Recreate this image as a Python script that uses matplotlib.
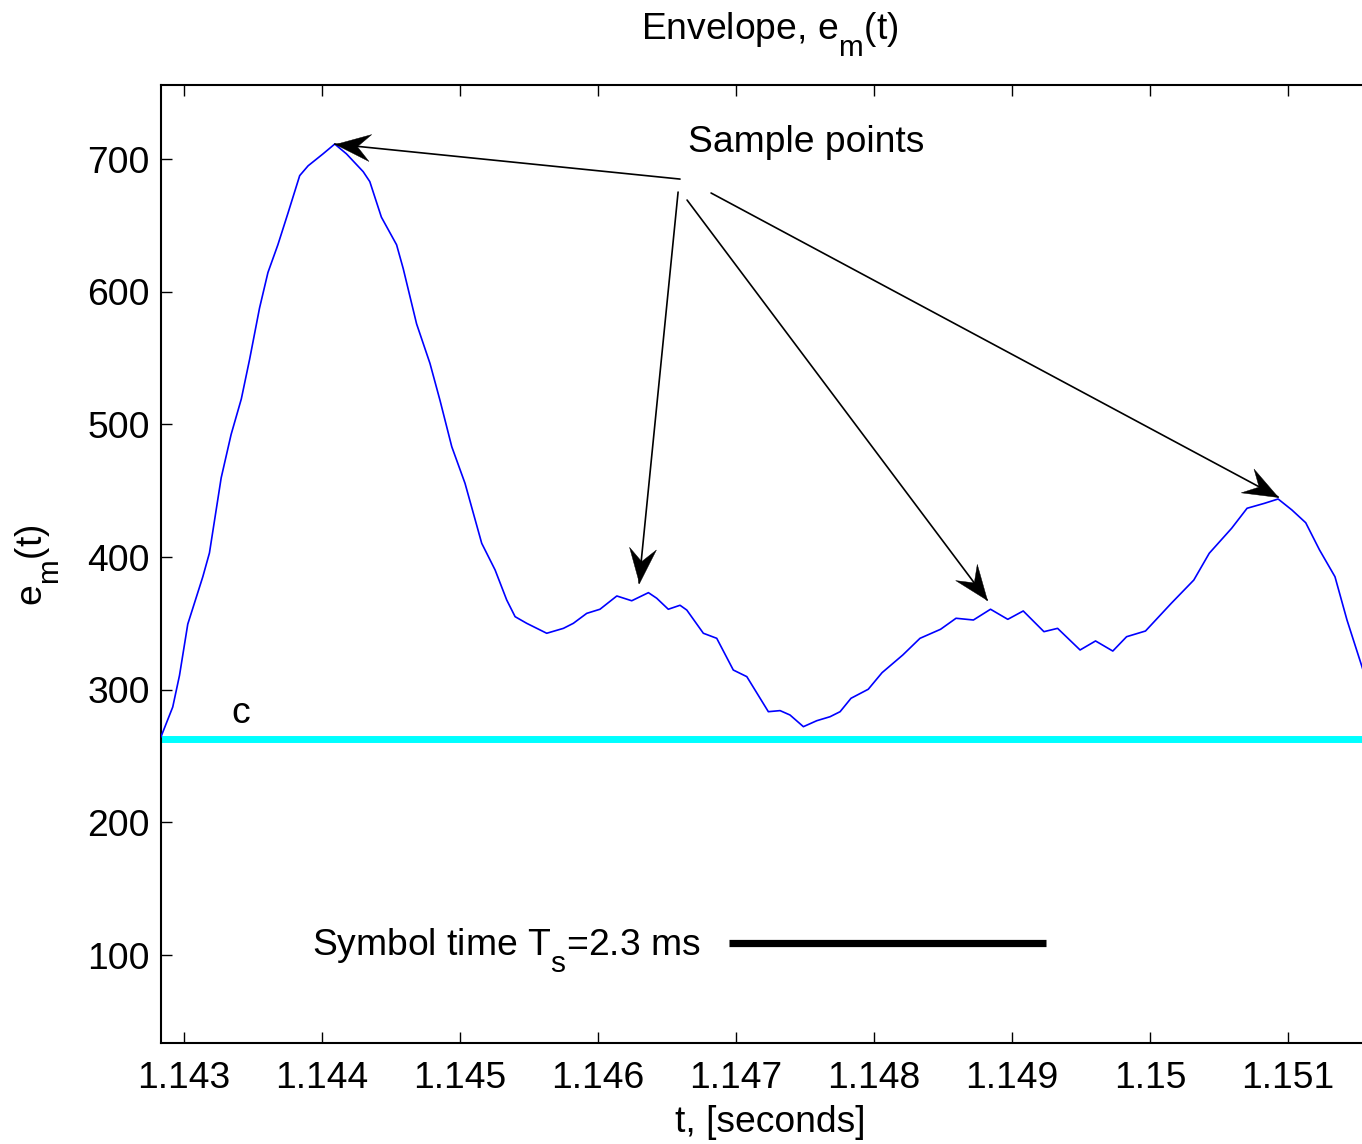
import numpy as np
import matplotlib
matplotlib.use("Agg")
import matplotlib.pyplot as plt
import matplotlib._mathtext as _mt
from matplotlib.markers import MarkerStyle
from matplotlib.path import Path
from matplotlib.transforms import Affine2D

plt.rcParams["font.family"] = ["Liberation Sans", "DejaVu Sans"]
plt.rcParams["mathtext.fontset"] = "custom"
plt.rcParams["mathtext.rm"] = "Liberation Sans"
plt.rcParams["mathtext.it"] = "Liberation Sans:italic"
# larger, lower subscripts
_mt.SHRINK_FACTOR = 0.8
_mt.FontConstantsBase.sub1 = 0.85

# Envelope e_m(t): time [s] and amplitude
t_env = [
    1.142833, 1.142918, 1.142967, 1.143027, 1.143136, 1.143184, 1.143269,
    1.143341, 1.143415, 1.143475, 1.143547, 1.143608, 1.143680, 1.143753,
    1.143838, 1.143899, 1.144007, 1.144092, 1.144177, 1.144298, 1.144346,
    1.144430, 1.144540, 1.144588, 1.144685, 1.144782, 1.144855, 1.144940,
    1.145036, 1.145157, 1.145254, 1.145338, 1.145399, 1.145483, 1.145628,
    1.145749, 1.145821, 1.145918, 1.146014, 1.146136, 1.146244, 1.146365,
    1.146425, 1.146509, 1.146594, 1.146643, 1.146763, 1.146860, 1.146980,
    1.147078, 1.147234, 1.147319, 1.147391, 1.147488, 1.147585, 1.147681,
    1.147754, 1.147833, 1.147958, 1.148058, 1.148208, 1.148333, 1.148482,
    1.148594, 1.148720, 1.148844, 1.148969, 1.149081, 1.149231, 1.149330,
    1.149493, 1.149605, 1.149730, 1.149830, 1.149967, 1.150154, 1.150317,
    1.150429, 1.150591, 1.150703, 1.150828, 1.150928, 1.151028, 1.151128,
    1.151228, 1.151340, 1.151427, 1.151540,
]
e_env = [
    264.6, 287.0, 310.8, 349.5, 385.2, 403.1, 459.7,
    492.4, 519.2, 549.0, 587.7, 614.5, 635.4, 659.2,
    687.5, 694.9, 703.9, 711.3, 703.9, 690.5, 683.0,
    656.2, 635.4, 617.5, 575.8, 546.0, 518.0, 483.2,
    455.6, 410.4, 390.3, 367.7, 355.1, 350.1, 342.6,
    346.3, 350.1, 357.6, 360.7, 370.7, 367.1, 373.2,
    369.0, 360.7, 363.7, 360.1, 342.6, 338.8, 314.9,
    309.9, 283.5, 284.3, 281.0, 272.2, 276.7, 279.7,
    283.5, 293.6, 300.4, 312.9, 326.2, 338.8, 345.6,
    353.9, 352.6, 360.7, 353.1, 359.4, 343.8, 346.3,
    330.0, 336.8, 329.2, 340.0, 344.3, 365.2, 382.7,
    402.9, 421.7, 436.8, 440.5, 443.8, 435.5, 425.9,
    405.4, 385.2, 352.6, 316.0,
]

# Threshold level c
c_level = 263.0

# Arrows pointing at the sample points
arrow_tail_t = [1.146594, 1.146580, 1.146645, 1.146819]
arrow_tail_v = [684.9, 675.1, 669.1, 674.4]
arrow_tip_t = [1.144092, 1.146297, 1.148819, 1.150928]
arrow_tip_v = [711.3, 380.5, 367.7, 445.3]

# Symbol-time scale bar
symbol_time = 0.0023
bar_start_t = 1.146949
bar_v = 109.2

x_ticks = [1.143, 1.144, 1.145, 1.146, 1.147, 1.148, 1.149, 1.150, 1.151]
x_tick_labels = ["1.143", "1.144", "1.145", "1.146", "1.147", "1.148",
                 "1.149", "1.15", "1.151"]
y_ticks = [100, 200, 300, 400, 500, 600, 700]

W, H = 1362, 1144
fig = plt.figure(figsize=(W / 100, H / 100), dpi=100)
ax_left, ax_right, ax_top, ax_bottom = 161, 1379, 85, 1043
ax = fig.add_axes([ax_left / W, 1 - ax_bottom / H,
                   (ax_right - ax_left) / W, (ax_bottom - ax_top) / H])

ax.set_xlim(1.142833, 1.151659)
ax.set_ylim(33.8, 755.8)

ax.axhline(c_level, color="#00ffff", lw=5.0, zorder=1)
ax.plot(t_env, e_env, color="#0000ff", lw=1.2, zorder=3,
        solid_joinstyle="round")

fs = 26.8
ax.text(1.143413, 275, "c", fontsize=fs, ha="center", va="baseline")
ax.text(1.146652, 705.3, "Sample points", fontsize=fs, ha="left", va="baseline")

# arrow shafts and notched heads
head = Path([(0, 0), (-35, 13.5), (-22, 0), (-35, -13.5), (0, 0)],
            [Path.MOVETO, Path.LINETO, Path.LINETO, Path.LINETO, Path.CLOSEPOLY])
for t0, v0, t1, v1 in zip(arrow_tail_t, arrow_tail_v, arrow_tip_t, arrow_tip_v):
    ax.annotate("", xy=(t1, v1), xytext=(t0, v0),
                arrowprops=dict(arrowstyle="-", lw=1.2, color="black",
                                shrinkA=0, shrinkB=0), zorder=4)
    p0 = ax.transData.transform((t0, v0))
    p1 = ax.transData.transform((t1, v1))
    ang = np.arctan2(p1[1] - p0[1], p1[0] - p0[0])
    m = MarkerStyle(head, transform=Affine2D().rotate(ang))
    ax.plot([t1], [v1], marker=m, markersize=50.4, color="black",
            mec="black", mew=0.3, zorder=5)

ax.plot([bar_start_t, bar_start_t + symbol_time], [bar_v, bar_v],
        color="black", lw=5.2, solid_capstyle="butt", zorder=3)
ax.text(1.146739, 100.2, r"Symbol time T$\mathregular{_s}$=2.3 ms",
        fontsize=fs, ha="right", va="baseline")

ax.set_xticks(x_ticks)
ax.set_xticklabels(x_tick_labels)
ax.set_yticks(y_ticks)
ax.tick_params(axis="both", direction="in", length=8, width=1.0,
               labelsize=fs, top=True, right=True)
ax.tick_params(axis="x", pad=13)
ax.tick_params(axis="y", pad=8)
for s in ax.spines.values():
    s.set_linewidth(1.5)

fig.text(770 / W, 1 - 39 / H, r"Envelope, e$\mathregular{_m}$(t)",
         fontsize=fs, ha="center", va="baseline")
fig.text(770 / W, 1 - 1132 / H, "t, [seconds]",
         fontsize=fs, ha="center", va="baseline")
fig.text(37 / W, 1 - 565 / H, r"e$\mathregular{_m}$(t)",
         fontsize=fs, ha="center", va="center", rotation=90)

fig.savefig("out.png", dpi=100)
